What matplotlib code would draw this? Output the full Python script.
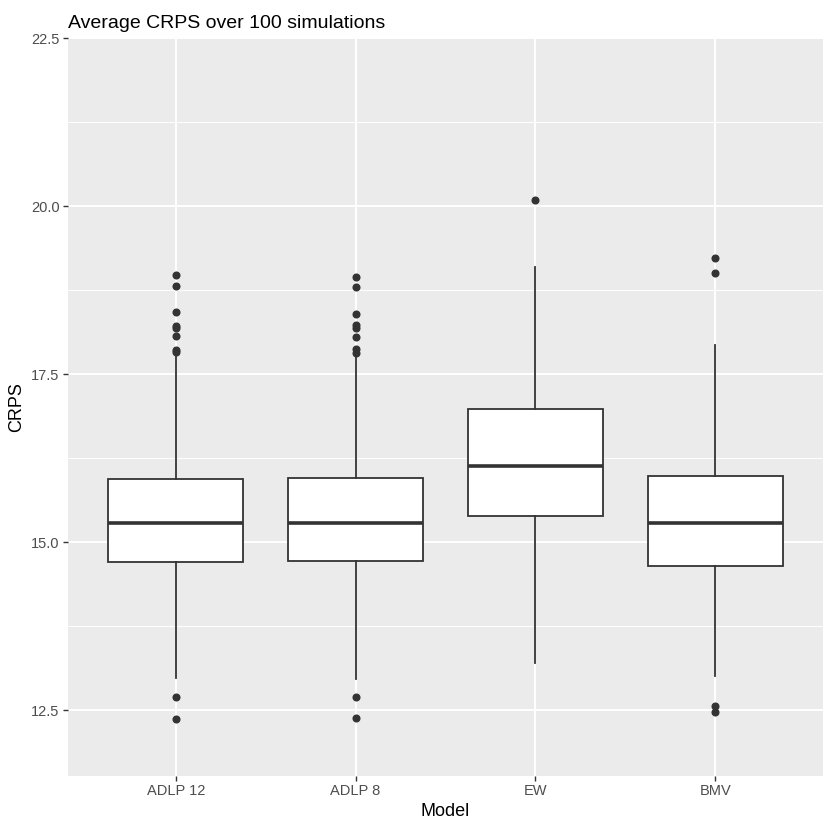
import numpy as np
import matplotlib
matplotlib.use("Agg")
import matplotlib.pyplot as plt

plt.rcParams['font.family'] = ['Liberation Sans', 'DejaVu Sans']

# data (box stats per model)
models = ["ADLP 12", "ADLP 8", "EW", "BMV"]
q1 = [14.71, 14.72, 15.39, 14.65]
med = [15.29, 15.28, 16.13, 15.28]
q3 = [15.94, 15.95, 16.98, 15.99]
whislo = [12.98, 12.97, 13.20, 13.01]
whishi = [17.78, 17.78, 19.09, 17.93]
fliers = [
    [18.97, 18.81, 18.42, 18.21, 18.18, 18.06, 17.86, 17.83, 12.70, 12.37],
    [18.95, 18.80, 18.40, 18.23, 18.19, 18.05, 17.87, 17.82, 12.69, 12.39],
    [20.09],
    [19.23, 19.01, 12.56, 12.47],
]
yticks = [12.5, 15.0, 17.5, 20.0, 22.5]

stats = []
for i, m in enumerate(models):
    stats.append(dict(label=m, q1=q1[i], med=med[i], q3=q3[i],
                      whislo=whislo[i], whishi=whishi[i], fliers=fliers[i]))

fig = plt.figure(figsize=(8.3, 8.3), dpi=100)
ax = fig.add_axes([68/830, 1 - 776/830, (823-68)/830, (776-38)/830])
ax.set_facecolor('#EBEBEB')

dark = '#333333'
ax.bxp(stats, positions=range(1, 5), widths=0.75, patch_artist=True, showcaps=False,
       boxprops=dict(facecolor='white', edgecolor=dark, linewidth=1.3),
       medianprops=dict(color=dark, linewidth=2.6),
       whiskerprops=dict(color=dark, linewidth=1.3),
       flierprops=dict(marker='o', markersize=4.8, markerfacecolor=dark,
                       markeredgecolor=dark), zorder=3)

ax.set_xlim(0.4, 4.6)
ax.set_ylim(11.52, 22.5)
ax.set_xticks(range(1, 5))
ax.set_xticklabels(models)
ax.set_yticks(yticks)
ax.set_yticklabels(['%.1f' % t for t in yticks])
ax.set_yticks([13.75, 16.25, 18.75, 21.25], minor=True)

ax.grid(True, which='major', color='white', linewidth=1.4, zorder=0)
ax.grid(True, which='minor', axis='y', color='white', linewidth=0.7, zorder=0)
ax.set_axisbelow(True)
for s in ax.spines.values():
    s.set_visible(False)

ax.tick_params(axis='both', which='major', length=3.5, width=1.0, color=dark,
               labelcolor='#4D4D4D', labelsize=10.5, pad=2.5)
ax.tick_params(axis='both', which='minor', length=0)

ax.set_xlabel('Model', fontsize=13, labelpad=3)
ax.set_ylabel('CRPS', fontsize=13, labelpad=4)
ax.set_title('Average CRPS over 100 simulations', loc='left', fontsize=14, pad=7)

fig.savefig('out.png', dpi=100)
